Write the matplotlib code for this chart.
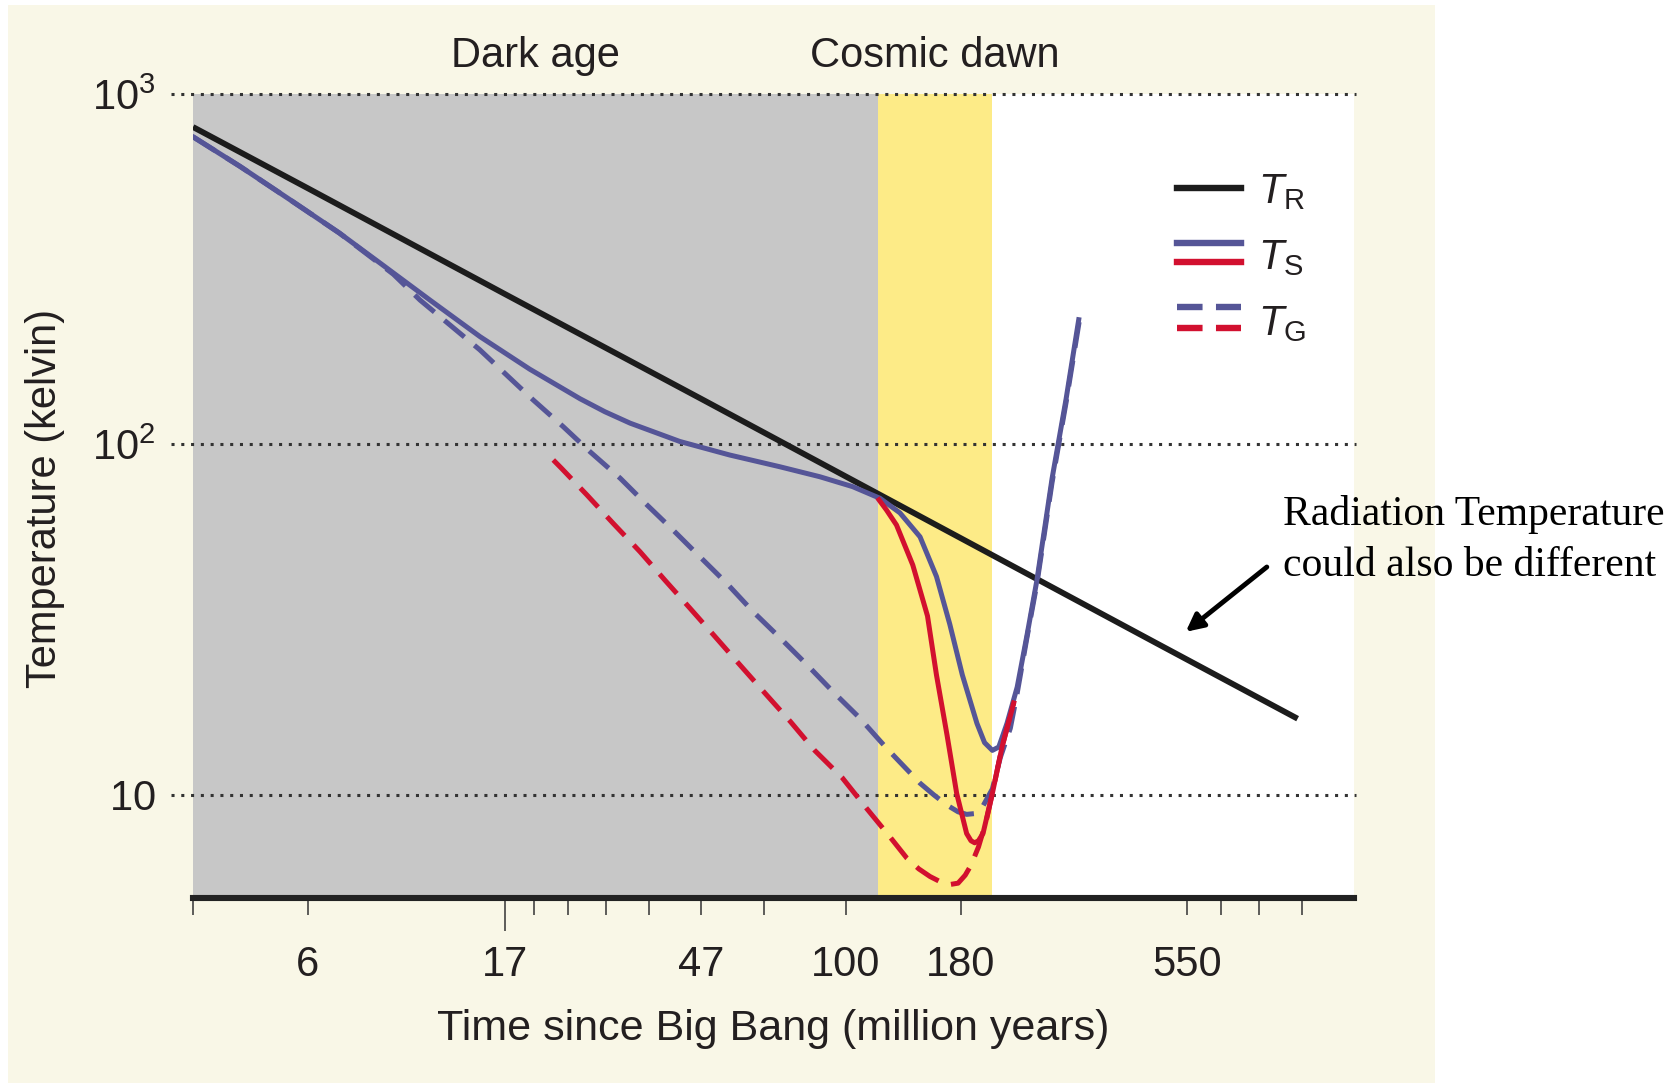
import matplotlib
matplotlib.use("Agg")
import matplotlib.pyplot as plt
import matplotlib.transforms as mtransforms
from matplotlib.patches import Rectangle
from matplotlib.ticker import NullFormatter, NullLocator

# ---------------- data (x = redshift z, y = temperature in K) ----------------
z_TR = [300, 200, 100, 50, 30, 20, 10, 6.1]
T_TR = [805, 538, 269, 135, 81, 54, 27, 16.5]

z_TS_blue = [300, 254, 213, 179, 155, 130, 109, 91.5, 76.6, 70.2, 64.2, 53.9, 45.2,
             37.9, 32.9, 29.3, 26.6, 24.8, 23.1, 21.8, 20.8, 19.9, 18.9, 18.4,
             17.9, 17.5, 17.0, 16.4, 15.85, 15.3, 14.5, 13.8, 13.2]
T_TS_blue = [755, 621, 499, 401, 329, 258, 203, 164, 135, 124, 115, 102, 93.3,
             86.4, 80.9, 75.8, 70.2, 63.8, 54.5, 42, 30.7, 22, 16, 14.1,
             13.4, 13.7, 16.0, 20.3, 28.4, 40.9, 80, 135, 227]

z_TG_blue = [300, 254, 213, 179, 148, 134.7, 121.2, 109.1, 99.3, 90.4, 81.3, 74.0,
             66.5, 60.5, 55.2, 50.2, 45.7, 41.6, 37.8, 34.4, 31.4, 28.6, 26.0,
             23.1, 22.0, 21.0, 20.2, 19.6, 19.0, 18.5, 17.9, 17.4, 16.8, 16.4,
             15.85, 15.3, 14.5, 13.8, 13.1]
T_TG_blue = [755, 621, 499, 401, 306, 258.2, 219.2, 186.2, 157.9, 134.0, 112.4, 95.4,
             80.1, 67.2, 57.0, 47.8, 40.2, 33.3, 28.0, 23.5, 19.7, 16.6, 13.6,
             10.8, 10.0, 9.35, 8.95, 8.8, 8.85, 9.3, 10.4, 12.8, 15.5, 19.5,
             28, 40, 78, 132, 240]

z_TS_red = [26.7, 26.0, 25.1, 23.7, 22.5, 21.8, 21.0, 20.3, 19.6, 19.3, 19.05,
            18.8, 18.5, 17.9, 17.3, 16.6]
T_TS_red = [69.5, 65, 58.9, 45.3, 32.4, 22, 14.8, 10.1, 7.76, 7.4, 7.3,
            7.4, 7.76, 10.1, 13.7, 18.3]

z_TG_red = [84.2, 81.8, 74.8, 68.2, 62.0, 56.8, 52.0, 47.6, 43.6, 39.9, 36.5,
            33.5, 30.4, 27.9, 25.7, 24.2, 23.2, 22.3, 21.5, 20.8, 20.2, 19.7,
            19.3, 18.8, 18.3, 17.9, 17.3, 16.6]
T_TG_red = [90.3, 85.5, 71.8, 59.6, 49.4, 41.0, 34.1, 28.3, 23.5, 19.5, 16.2,
            13.4, 11.2, 9.16, 7.6, 6.6, 6.15, 5.85, 5.65, 5.55, 5.6, 5.9,
            6.3, 7.1, 8.4, 10.1, 13.7, 18.3]

# eras (redshift ranges)
dark_age = (300, 26.8)
cosmic_dawn = (26.8, 17.9)

# axis ticks: redshift positions with time labels (million years)
tick_z = [200, 100, 50, 30, 20, 9]
tick_time = ["6", "17", "47", "100", "180", "550"]
minor_z = [300, 90, 80, 70, 60, 40, 8, 7, 6]
y_ticks = [10, 100, 1000]
y_ticklabels = [r"$10$", r"$10^2$", r"$10^3$"]

# ---------------- style ----------------
plt.rcParams["font.family"] = ["Liberation Sans", "DejaVu Sans"]
plt.rcParams["mathtext.fontset"] = "custom"
plt.rcParams["mathtext.rm"] = "Liberation Sans"
plt.rcParams["mathtext.it"] = "Liberation Sans:italic"
plt.rcParams["mathtext.default"] = "regular"

CREAM = "#f9f7e7"
GRAY = "#c7c7c7"
YELLOW = "#fdeb87"
BLUE = "#555597"
RED = "#d2102f"
BLACK = "#1c1c1c"
TXT = "#231f20"
FS = 30

W, H = 1672, 1086
fig = plt.figure(figsize=(W / 100, H / 100), dpi=100)
fig.patch.set_facecolor("white")
fig.patches.append(Rectangle((8 / W, 1 - 1083 / H), (1435 - 8) / W, (1083 - 5) / H,
                             transform=fig.transFigure, facecolor=CREAM,
                             edgecolor="none", zorder=-5))

ax = fig.add_axes([193 / W, 1 - 898 / H, 1161 / W, 804 / H])
ax.set_facecolor("white")
ax.set_xscale("log")
ax.set_yscale("log")
ax.set_xlim(300, 5)
ax.set_ylim(5.08, 1000)

ax.axvspan(*dark_age, color=GRAY, lw=0, zorder=0.5)
ax.axvspan(*cosmic_dawn, color=YELLOW, lw=0, zorder=0.5)

ax.hlines(y_ticks, -0.019, 1.002, transform=ax.get_yaxis_transform(),
          colors="#333333", linestyles=(0, (1, 2.2)), lw=2.2, clip_on=False, zorder=2)

dash = (0, (5.2, 2.6))
ax.plot(z_TR, T_TR, color=BLACK, lw=4.2, solid_capstyle="butt", zorder=3)
ax.plot(z_TG_blue, T_TG_blue, color=BLUE, lw=3.6, linestyle=dash, zorder=4)
ax.plot(z_TS_blue, T_TS_blue, color=BLUE, lw=3.6, zorder=5)
ax.plot(z_TG_red, T_TG_red, color=RED, lw=3.6, linestyle=dash, zorder=6)
ax.plot(z_TS_red, T_TS_red, color=RED, lw=3.6, zorder=7)

# spines
for s in ["top", "left", "right"]:
    ax.spines[s].set_visible(False)
ax.spines["bottom"].set_linewidth(4.4)
ax.spines["bottom"].set_color("#222222")
ax.spines["bottom"].set_zorder(8)

# x ticks
ax.set_xticks(tick_z, tick_time)
ax.set_xticks(minor_z, minor=True)
ax.xaxis.set_minor_formatter(NullFormatter())
ax.tick_params(axis="x", which="both", direction="out", length=12, width=1.1,
               color="#333333", labelsize=FS, labelcolor=TXT, pad=22)
ax.xaxis.get_major_ticks()[1].tick1line.set_markersize(24)

# y ticks
ax.set_yticks(y_ticks, y_ticklabels)
ax.yaxis.set_minor_locator(NullLocator())
ax.tick_params(axis="y", which="both", length=0, pad=27, labelsize=FS, labelcolor=TXT)

# labels
ax.text(0.5, (898 - 1040) / 804, "Time since Big Bang (million years)",
        transform=ax.transAxes, ha="center", va="baseline", fontsize=31, color=TXT)
fig.text(45 / W, 1 - 498 / H, "Temperature (kelvin)", rotation=90,
         ha="center", va="center", fontsize=FS, color=TXT)

blend = mtransforms.blended_transform_factory(ax.transData, ax.transAxes)
ax.text((dark_age[0] * dark_age[1]) ** 0.5, (898 - 67) / 804, "Dark age",
        transform=blend, ha="center", va="baseline", fontsize=FS, color=TXT)
ax.text((cosmic_dawn[0] * cosmic_dawn[1]) ** 0.5, (898 - 67) / 804, "Cosmic dawn",
        transform=blend, ha="center", va="baseline", fontsize=FS, color=TXT)

# legend (drawn manually in axes fraction)
lx = [(1177 - 193) / 1161, (1241 - 193) / 1161]
def fy(py):
    return (898 - py) / 804
ax.plot(lx, [fy(188)] * 2, transform=ax.transAxes, color=BLACK, lw=4.6, clip_on=False)
ax.plot(lx, [fy(243)] * 2, transform=ax.transAxes, color=BLUE, lw=4.6, clip_on=False)
ax.plot(lx, [fy(262)] * 2, transform=ax.transAxes, color=RED, lw=4.6, clip_on=False)
ax.plot(lx, [fy(307)] * 2, transform=ax.transAxes, color=BLUE, lw=4.6,
        linestyle=(0, (4, 2.1)), clip_on=False)
ax.plot(lx, [fy(328)] * 2, transform=ax.transAxes, color=RED, lw=4.6,
        linestyle=(0, (4, 2.1)), clip_on=False)
tx = (1258 - 193) / 1161
for sub, base in [("R", 203), ("S", 269), ("G", 335)]:
    ax.text(tx, fy(base), r"$\mathit{T}_{\mathrm{%s}}$" % sub, transform=ax.transAxes,
            fontsize=FS, va="baseline", ha="left", color=TXT)

# annotation
fig.text(1283 / W, 1 - 540 / H, "Radiation Temperature\ncould also be different",
         fontsize=30, family=["Liberation Serif", "DejaVu Serif"], color="black",
         ha="left", va="center", linespacing=1.4)
ax.annotate("", xy=(9.05, 29.2), xytext=(6.8, 44.7),
            arrowprops=dict(arrowstyle="-|>", color="black", lw=3.5,
                            mutation_scale=26, shrinkA=0, shrinkB=0),
            annotation_clip=False, zorder=9)

fig.savefig("out.png", dpi=100, facecolor=fig.get_facecolor())
